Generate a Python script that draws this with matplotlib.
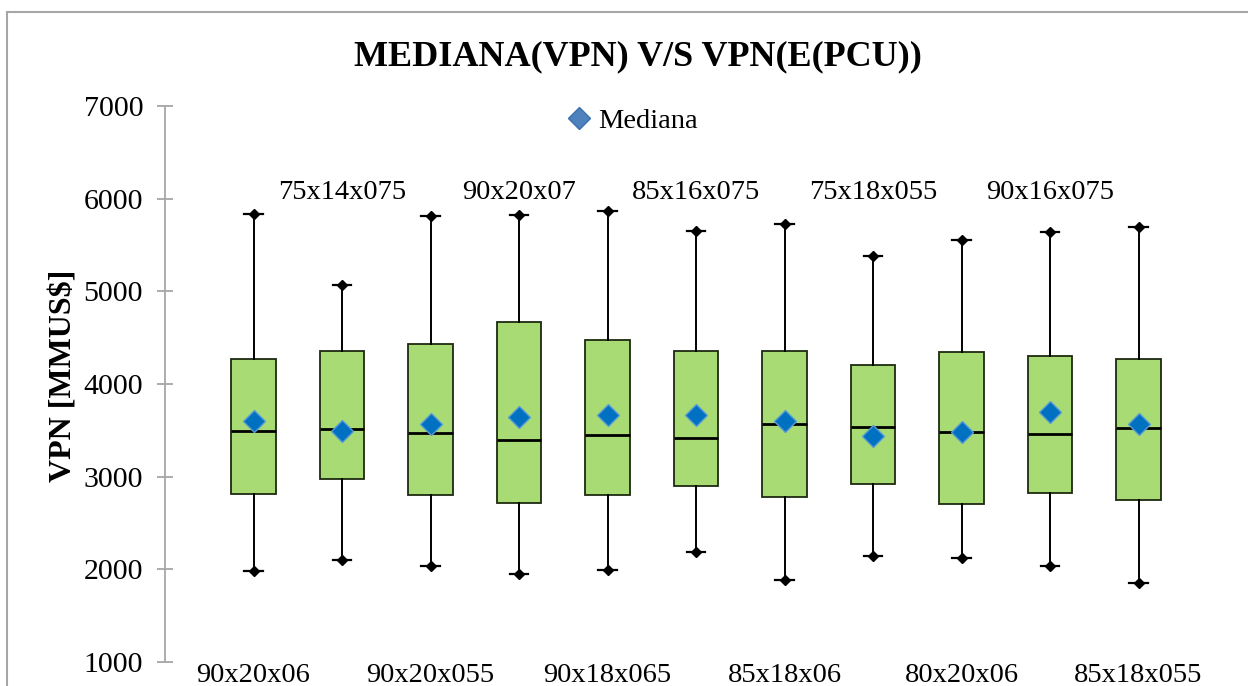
import matplotlib
matplotlib.use("Agg")
import matplotlib.pyplot as plt
from matplotlib.lines import Line2D
from matplotlib.patches import Rectangle

categories = ["90x20x06", "75x14x075", "90x20x055", "90x20x07", "90x18x065",
              "85x16x075", "85x18x06", "75x18x055", "80x20x06", "90x16x075", "85x18x055"]
v_min    = [1986, 2105, 2033, 1954, 1994, 2191, 1886, 2145, 2127, 2040, 1850]
v_q1     = [2818, 2980, 2807, 2717, 2797, 2897, 2781, 2926, 2710, 2822, 2747]
v_median = [3498, 3516, 3476, 3397, 3451, 3419, 3563, 3531, 3484, 3459, 3527]
v_q3     = [4265, 4351, 4437, 4664, 4473, 4351, 4359, 4207, 4348, 4305, 4272]
v_max    = [5838, 5064, 5809, 5823, 5863, 5647, 5730, 5377, 5557, 5640, 5698]
v_mean   = [3606, 3495, 3570, 3649, 3667, 3667, 3603, 3441, 3484, 3697, 3563]

plt.rcParams['font.family'] = ['Liberation Serif', 'DejaVu Serif']

W, H = 1248, 686
fig = plt.figure(figsize=(W / 100, H / 100), dpi=100)
ax = fig.add_axes([165 / W, 1 - 662 / H, (1227 - 165) / W, (662 - 106) / H])

positions = list(range(len(categories)))
stats = []
for i in positions:
    stats.append(dict(med=v_median[i], q1=v_q1[i], q3=v_q3[i],
                      whislo=v_min[i], whishi=v_max[i], fliers=[], label=categories[i]))

ax.bxp(stats, positions=positions, widths=0.5, patch_artist=True, showfliers=False,
       boxprops=dict(facecolor='#A9DB75', edgecolor='#1E2A10', linewidth=1.3),
       medianprops=dict(color='black', linewidth=2),
       whiskerprops=dict(color='black', linewidth=1.4),
       capprops=dict(color='black', linewidth=1.6),
       capwidths=0.21, manage_ticks=False)
ax.plot(positions, v_min, linestyle='none', marker='D', ms=5, color='black', zorder=4)
ax.plot(positions, v_max, linestyle='none', marker='D', ms=5, color='black', zorder=4)
ax.plot(positions, v_mean, linestyle='none', marker='D', ms=11, markerfacecolor='#0070C0',
        markeredgecolor='#5B9BD5', markeredgewidth=1.0, zorder=5)

ax.set_xlim(-1, 11)
ax.set_ylim(1000, 7000)
ax.set_yticks([1000, 2000, 3000, 4000, 5000, 6000, 7000])
ax.set_xticks([])
for s in ['top', 'right', 'bottom']:
    ax.spines[s].set_visible(False)
ax.spines['left'].set_color('#A6A6A6')
ax.spines['left'].set_linewidth(1.3)
ax.tick_params(axis='y', direction='inout', length=11.5, width=1.3, color='#A6A6A6',
               labelsize=21.5, pad=10)

for i in positions:
    if i % 2 == 0:
        ax.text(i, -0.036, categories[i], transform=ax.get_xaxis_transform(),
                ha='center', va='baseline', fontsize=20.5, clip_on=False)
    else:
        ax.text(i, 5995, categories[i], ha='center', va='baseline', fontsize=20.5)

ax.set_ylabel('VPN [MMUS$]', fontsize=23, fontweight='bold')
ax.yaxis.set_label_coords(-0.081, 0.515)
fig.text(638 / W, 1 - 57 / H, 'MEDIANA(VPN) V/S VPN(E(PCU))', ha='center', va='center',
         fontsize=26, fontweight='bold')

handle = Line2D([], [], linestyle='none', marker='D', ms=11, markerfacecolor='#4F81BD',
                markeredgecolor='#3A6FB0')
fig.legend([handle], ['Mediana'], loc='center', bbox_to_anchor=(630 / W, 1 - 121 / H),
           frameon=False, fontsize=20.5, handletextpad=0.05, handlelength=1.2, borderpad=0)

# chart area border (right and bottom edges lie outside the picture)
fig.patches.append(Rectangle((7 / W, -0.05), 1.1, (H - 12) / H + 0.05,
                             transform=fig.transFigure, fill=False, edgecolor='#A6A6A6',
                             linewidth=1.5))

fig.savefig('out.png', dpi=100)
